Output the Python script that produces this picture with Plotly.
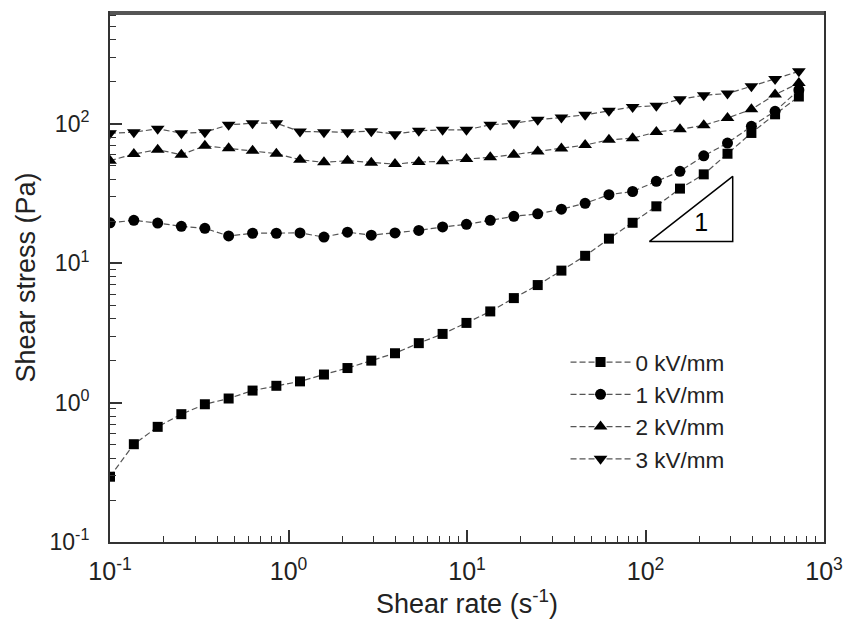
import plotly.graph_objects as go

shear_rate = [0.1, 0.136, 0.185, 0.251, 0.340, 0.462, 0.629, 0.855, 1.16, 1.58,
              2.14, 2.91, 3.95, 5.37, 7.30, 9.93, 13.5, 18.3, 24.9, 33.8,
              45.9, 62.4, 84.7, 115, 156, 212, 288, 392, 532, 723]

stress_0kv = [0.294, 0.503, 0.670, 0.826, 0.973, 1.07, 1.22, 1.32, 1.42, 1.59,
              1.77, 2.0, 2.26, 2.67, 3.11, 3.73, 4.51, 5.62, 6.97, 8.85,
              11.3, 15.0, 19.5, 25.6, 34.3, 43.4, 61, 86, 117, 157]
stress_1kv = [19.5, 20.3, 19.4, 18.4, 17.8, 15.7, 16.4, 16.4, 16.5, 15.4,
              16.7, 15.9, 16.5, 17.2, 18.2, 19.0, 20.3, 21.7, 22.6, 24.4,
              26.9, 31.0, 32.7, 38.7, 45.6, 58.9, 72.7, 96, 123, 175]
stress_2kv = [54.4, 60.7, 65.2, 60.1, 69.6, 66.9, 64.2, 61.1, 55.3, 52.9,
              54.4, 52.6, 51.4, 53.2, 53.8, 55.9, 57.5, 60.1, 63.4, 66.5,
              70.4, 76.8, 78.8, 87.4, 91.3, 97.7, 110, 127, 162, 196]
stress_3kv = [85.7, 87.1, 92.1, 85.7, 87.1, 98.4, 101, 101, 88.1, 87.1,
              87.1, 88.6, 84.3, 89.1, 90.6, 90.6, 98.4, 101, 107, 111,
              116, 124, 132, 135, 150, 160, 165, 186, 210, 238]

series_names = ["0 kV/mm", "1 kV/mm", "2 kV/mm", "3 kV/mm"]
series_values = [stress_0kv, stress_1kv, stress_2kv, stress_3kv]
series_symbols = ["square", "circle", "triangle-up", "triangle-down"]
series_sizes = [10, 11, 12, 12]

x_tickvals = [0.1, 1, 10, 100, 1000]
x_ticktext = ["10<sup>-1</sup>", "10<sup>0</sup>", "10<sup>1</sup>", "10<sup>2</sup>", "10<sup>3</sup>"]
y_tickvals = [0.1, 1, 10, 100]
y_ticktext = ["10<sup>-1</sup>", "10<sup>0</sup>", "10<sup>1</sup>", "10<sup>2</sup>"]

# slope-1 guide triangle (data coordinates)
slope_x = [105, 308, 308, 105]
slope_y = [14.3, 14.3, 42.0, 14.3]
slope_label_x = [205]
slope_label_y = [18.8]

FONT = "Arial, Liberation Sans, sans-serif"
minor_vals = [m * 10.0 ** e for e in range(-1, 3) for m in range(2, 10)]

fig = go.Figure()
for name, vals, sym, sz in zip(series_names, series_values, series_symbols, series_sizes):
    fig.add_trace(go.Scatter(
        x=shear_rate, y=vals, name=name, mode="lines+markers",
        line=dict(color="#555555", width=1.2, dash="6px,3px"),
        marker=dict(symbol=sym, size=sz, color="black"),
    ))

fig.add_trace(go.Scatter(
    x=slope_x, y=slope_y, mode="lines", showlegend=False,
    line=dict(color="black", width=1.5), hoverinfo="skip"))
fig.add_trace(go.Scatter(
    x=slope_label_x, y=slope_label_y, mode="text", text=["1"], showlegend=False,
    textfont=dict(size=25, color="black", family=FONT), hoverinfo="skip"))

axis_common = dict(
    type="log", showgrid=False, zeroline=False,
    showline=True, linecolor="#333333", linewidth=2, mirror=True,
    ticks="inside", ticklen=12, tickwidth=1.5, tickcolor="#333333",
    minor=dict(ticks="inside", ticklen=6, tickwidth=1.2, tickcolor="#333333",
               tickmode="array", tickvals=minor_vals, showgrid=False),
)

fig.update_xaxes(**axis_common, range=[-1, 3], tickmode="array",
                 tickvals=x_tickvals, ticktext=x_ticktext, ticklabelstandoff=6,
                 tickfont=dict(size=25, color="#222222", family=FONT),
                 title=dict(text="Shear rate (s<sup>-1</sup>)", standoff=10,
                            font=dict(size=27, color="#222222", family=FONT)))
fig.update_yaxes(**axis_common, range=[-1, 2.795], tickmode="array",
                 tickvals=y_tickvals, ticktext=y_ticktext, ticklabelstandoff=14,
                 tickfont=dict(size=23, color="#222222", family=FONT),
                 title=dict(text="Shear stress (Pa)", standoff=6,
                            font=dict(size=27, color="#222222", family=FONT)))

fig.add_shape(type="line", xref="paper", yref="paper", x0=0, x1=1, y0=1, y1=1,
              line=dict(color="#555555", width=4))

fig.update_layout(
    width=854, height=629,
    margin=dict(l=110, r=22, t=11, b=87),
    plot_bgcolor="white", paper_bgcolor="white",
    font=dict(family=FONT, color="#222222"),
    legend=dict(x=0.638, y=0.38, xanchor="left", yanchor="top",
                bgcolor="rgba(0,0,0,0)", font=dict(size=22.5, family=FONT),
                itemwidth=60, tracegroupgap=0),
)

fig.write_html("out.html")
